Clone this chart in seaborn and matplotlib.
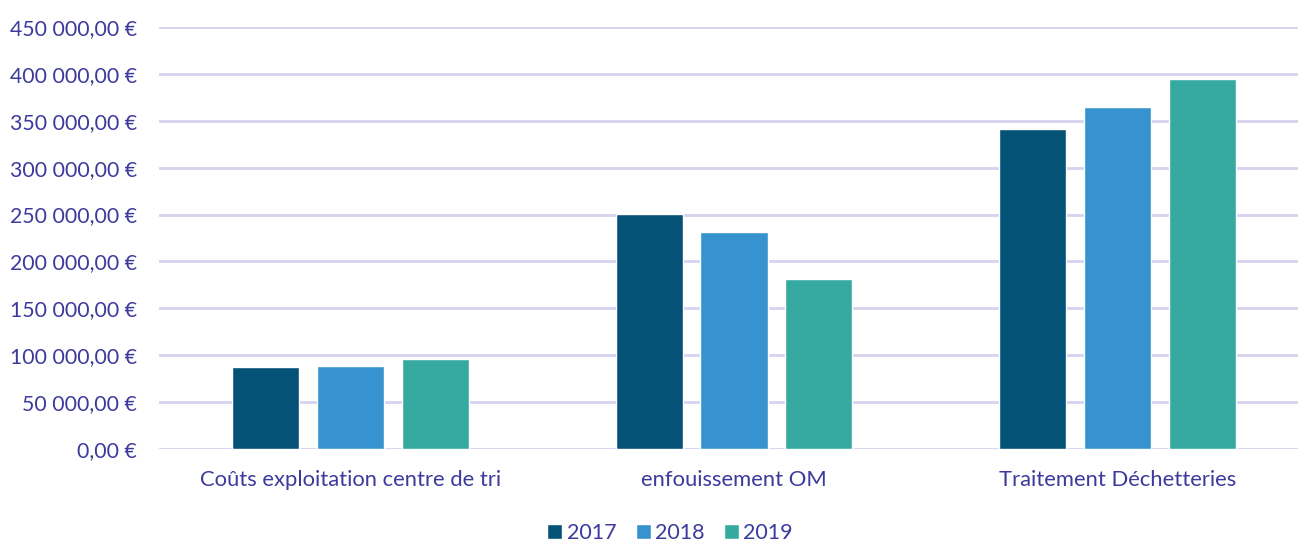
import pandas as pd
import matplotlib
matplotlib.use("Agg")
import matplotlib.pyplot as plt
import seaborn as sns

# --------------------------------------------------
# DATA
# --------------------------------------------------

categories = [
    "Coûts exploitation centre de tri",
    "enfouissement OM",
    "Traitement Déchetteries"
]

years = ["2017", "2018", "2019"]

values_2017 = [87300, 251000, 340800]
values_2018 = [88100, 231800, 364500]
values_2019 = [95800, 181700, 394500]

y_ticks = [0, 50000, 100000, 150000, 200000, 250000, 300000, 350000, 400000, 450000]

df = pd.DataFrame({
    "category": categories * 3,
    "year": [years[0]] * 3 + [years[1]] * 3 + [years[2]] * 3,
    "value": values_2017 + values_2018 + values_2019
})

# --------------------------------------------------
# STYLE
# --------------------------------------------------

sns.set_style("white")
plt.rcParams["font.family"] = ["Lato", "DejaVu Sans"]

text_color = "#3D3A9C"
palette = ["#045275", "#3793CF", "#36AAA1"]

fig = plt.figure(figsize=(12.98, 5.42), dpi=100)
ax = fig.add_axes([159 / 1298, 93 / 542, 1150 / 1298, 422 / 542])

sns.barplot(
    data=df,
    x="category",
    y="value",
    hue="year",
    palette=palette,
    width=0.664,
    gap=0.21,
    saturation=1,
    ax=ax,
    zorder=3
)

# --------------------------------------------------
# AXES
# --------------------------------------------------

ax.set_ylim(0, 450000)
ax.set_xlim(-0.5, 2.5)
ax.set_yticks(y_ticks)
ax.set_yticklabels(
    [f"{v:,.2f}".replace(",", " ").replace(".", ",") + " €" for v in y_ticks]
)

ax.grid(axis="y", color="#D6D2EF", linewidth=2, zorder=0)
ax.set_axisbelow(True)

for side in ["top", "right", "left", "bottom"]:
    ax.spines[side].set_visible(False)

ax.tick_params(axis="y", length=0, pad=16, labelsize=15.3, labelcolor=text_color)
ax.tick_params(axis="x", length=0, pad=15, labelsize=15.8, labelcolor=text_color)

ax.set_xlabel("")
ax.set_ylabel("")

# --------------------------------------------------
# LEGEND
# --------------------------------------------------

leg = ax.legend(
    loc="center",
    bbox_to_anchor=(670 / 1298, 1 - 533 / 542),
    bbox_transform=fig.transFigure,
    ncol=3,
    frameon=False,
    fontsize=15.5,
    handlelength=0.7,
    handleheight=0.7,
    handletextpad=0.2,
    columnspacing=0.9
)

for t in leg.get_texts():
    t.set_color(text_color)

plt.savefig("out.png", dpi=100)

plt.close()
